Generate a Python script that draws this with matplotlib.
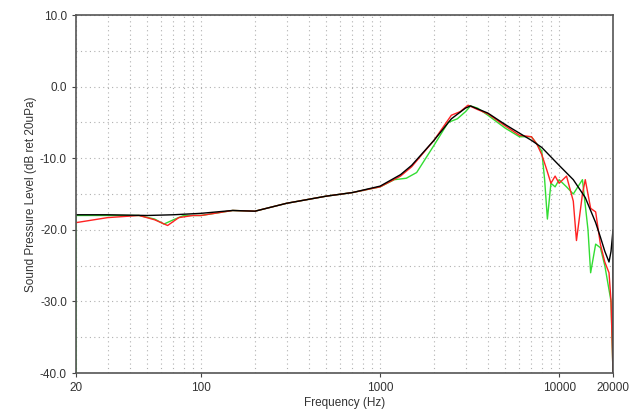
import matplotlib
matplotlib.use("Agg")
import matplotlib.pyplot as plt
from matplotlib.ticker import FixedLocator, NullFormatter, LogLocator

plt.rcParams['font.family'] = ['Liberation Sans', 'DejaVu Sans']

black_f = [20, 30, 50, 70, 100, 150, 200, 300, 500, 700, 1000, 1300, 1500, 2000, 2500, 3000, 3200, 4000, 5000, 6000, 7000, 8000, 10000, 12000, 14000, 16000, 17000, 18000, 19000, 19500, 20000, 20000]
black_db = [-17.9, -17.9, -18.0, -17.9, -17.7, -17.3, -17.4, -16.3, -15.3, -14.8, -13.9, -12.3, -11.0, -7.5, -4.5, -3.0, -2.7, -3.7, -5.3, -6.5, -7.5, -8.5, -11.0, -13.0, -15.5, -19.0, -21.0, -23.0, -24.5, -23.0, -20.0, -40.0]

red_f = [20, 30, 45, 55, 65, 75, 90, 100, 150, 200, 300, 500, 700, 1000, 1300, 1500, 2000, 2500, 2800, 3100, 3500, 4000, 5000, 6000, 7000, 7500, 8000, 8500, 9000, 9500, 10000, 11000, 12000, 12500, 13500, 14000, 15000, 16000, 17000, 18000, 19000, 19500, 20000]
red_db = [-19.0, -18.3, -18.0, -18.6, -19.4, -18.3, -18.0, -18.0, -17.3, -17.4, -16.3, -15.3, -14.8, -14.0, -12.5, -11.2, -7.5, -4.0, -3.5, -2.6, -3.2, -3.8, -5.5, -6.8, -7.0, -8.0, -9.5, -11.5, -13.5, -12.5, -13.5, -12.5, -16.0, -21.5, -15.0, -13.0, -17.0, -17.5, -22.0, -24.5, -26.0, -30.0, -40.0]

green_f = [20, 20, 30, 45, 55, 62, 70, 80, 100, 150, 200, 300, 500, 700, 1000, 1200, 1400, 1600, 2000, 2400, 2700, 3000, 3200, 3500, 4000, 5000, 6000, 7000, 7500, 8000, 8300, 8600, 9000, 9500, 10000, 11000, 12000, 13500, 14500, 15000, 16000, 17000, 18000, 19500, 20000]
green_db = [-40.0, -18.0, -18.0, -18.0, -18.5, -19.2, -18.6, -18.0, -18.0, -17.3, -17.4, -16.3, -15.3, -14.8, -14.0, -13.0, -12.8, -12.0, -8.2, -5.0, -4.5, -3.5, -2.7, -3.0, -4.0, -5.8, -7.0, -7.0, -8.0, -9.0, -13.0, -18.5, -13.5, -14.0, -13.0, -14.0, -15.0, -13.0, -20.0, -26.0, -22.0, -22.5, -25.0, -30.0, -40.0]

fig = plt.figure(figsize=(6.4, 4.19), dpi=100)
ax = fig.add_axes([76/640, 1 - 373/419, (613 - 76)/640, (373 - 15)/419])
ax.set_xscale('log')
ax.set_xlim(20, 20000)
ax.set_ylim(-40, 10)

ax.plot(green_f, green_db, color='#33dd33', lw=1.0)
ax.plot(red_f, red_db, color='#ff2222', lw=1.0)
ax.plot(black_f, black_db, color='black', lw=1.0)

ax.xaxis.set_major_locator(FixedLocator([20, 100, 1000, 10000, 20000]))
ax.set_xticklabels(['20', '100', '1000', '10000', '20000'])
ax.xaxis.set_minor_locator(LogLocator(base=10, subs=range(2, 10), numticks=20))
ax.xaxis.set_minor_formatter(NullFormatter())
ax.set_yticks([10, 0, -10, -20, -30, -40])
ax.set_yticklabels(['10.0', '0.0', '-10.0', '-20.0', '-30.0', '-40.0'])
ax.set_yticks([5, -5, -15, -25, -35], minor=True)
ax.grid(True, which='both', color='#b0b0b0', linestyle=(0, (1, 3)), lw=0.8)
ax.tick_params(which='minor', length=0)
ax.tick_params(which='major', labelsize=8.5, length=3, color='#444444', labelcolor='#333333')
for s in ax.spines.values():
    s.set_color('#555555')
    s.set_linewidth(1.2)
ax.set_xlabel('Frequency (Hz)', fontsize=8.5, color='#333333', labelpad=2)
ax.set_ylabel('Sound Pressure Level (dB ret 20uPa)', fontsize=8.5, color='#333333', labelpad=2)
fig.savefig('out.png', dpi=100)
